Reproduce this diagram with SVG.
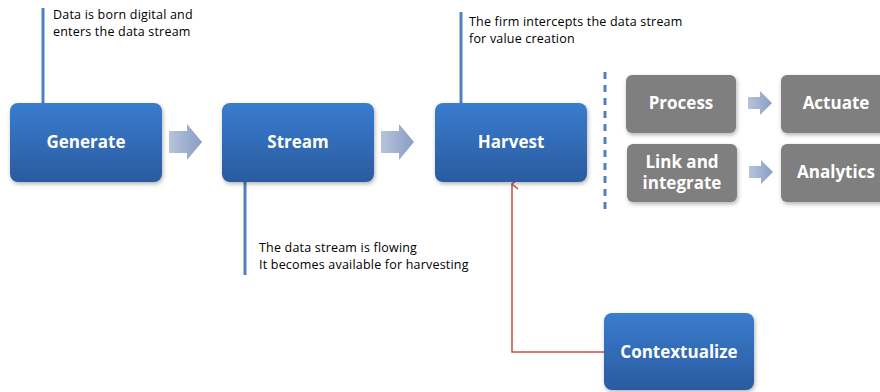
<svg xmlns="http://www.w3.org/2000/svg" width="880" height="392" viewBox="0 0 880 392">
<defs>
<linearGradient id="blue" x1="0" y1="0" x2="0" y2="1">
<stop offset="0" stop-color="#3a7ccf"/>
<stop offset="1" stop-color="#2a5b9f"/>
</linearGradient>
<linearGradient id="arr" x1="0" y1="0" x2="1" y2="0">
<stop offset="0" stop-color="#b5c3dc"/>
<stop offset="1" stop-color="#8a9dc4"/>
</linearGradient>
<filter id="sh" x="-10%" y="-10%" width="130%" height="130%">
<feDropShadow dx="1" dy="2" stdDeviation="2" flood-color="#000" flood-opacity="0.3"/>
</filter>
<marker id="redhead" markerWidth="12" markerHeight="12" refX="6" refY="1" orient="auto" markerUnits="userSpaceOnUse" viewBox="0 0 12 12">
<path d="M1,7 L6,1 L11,7" fill="none" stroke="#c0504d" stroke-width="1.5"/>
</marker>
</defs>
<style>
.box{fill:url(#blue);filter:url(#sh)}
.gbox{fill:#7f7f7f;filter:url(#sh)}
.lbl{font-family:"Open Sans","Liberation Sans",sans-serif;font-weight:bold;font-size:17px;fill:#fff;text-anchor:middle}
.note{font-family:"Open Sans","Liberation Sans",sans-serif;font-size:12.5px;letter-spacing:0.2px;fill:#000}
.call{stroke:#4f81bd;stroke-width:3;fill:none}
.bigarr{fill:url(#arr)}
</style>
<g id="connectors">
<line class="call" x1="43" y1="8" x2="43" y2="103"/>
<line class="call" x1="245" y1="182" x2="245" y2="275"/>
<line class="call" x1="461" y1="12" x2="461" y2="103"/>
<line x1="605" y1="72" x2="605" y2="210" stroke="#4f81bd" stroke-width="3" stroke-dasharray="7,6"/>
<polyline points="604,352 512,352 512,184" fill="none" stroke="#c0504d" stroke-width="1.5" marker-end="url(#redhead)"/>
<path class="bigarr" d="M169,131 H187 V124 L202,142 L187,160 V153 H169 Z"/>
<path class="bigarr" d="M381,131 H399 V124 L414,142 L399,160 V153 H381 Z"/>
<path class="bigarr" d="M748,97 H760 V91 L772,103 L760,115 V109 H748 Z"/>
<path class="bigarr" d="M749,166 H761 V160 L773,172 L761,184 V178 H749 Z"/>
</g>
<g id="generate">
<rect class="box" x="10" y="103" width="152" height="79" rx="8"/>
<text class="lbl" x="86" y="148">Generate</text>
</g>
<g id="stream">
<rect class="box" x="222" y="103" width="152" height="79" rx="8"/>
<text class="lbl" x="298" y="148">Stream</text>
</g>
<g id="harvest">
<rect class="box" x="435" y="103" width="152" height="79" rx="8"/>
<text class="lbl" x="511" y="148">Harvest</text>
</g>
<g id="process">
<rect class="gbox" x="626" y="75" width="110" height="58" rx="6"/>
<text class="lbl" x="681" y="109">Process</text>
</g>
<g id="actuate">
<rect class="gbox" x="781" y="75" width="110" height="58" rx="6"/>
<text class="lbl" x="836" y="109">Actuate</text>
</g>
<g id="link">
<rect class="gbox" x="627" y="144" width="110" height="58" rx="6"/>
<text class="lbl" x="682" y="168">Link and</text>
<text class="lbl" x="682" y="189">integrate</text>
</g>
<g id="analytics">
<rect class="gbox" x="781" y="144" width="110" height="58" rx="6"/>
<text class="lbl" x="836" y="178">Analytics</text>
</g>
<g id="contextualize">
<rect class="box" x="604" y="313" width="150" height="77" rx="8"/>
<text class="lbl" x="679" y="358">Contextualize</text>
</g>
<g id="notes">
<text class="note" x="53" y="19">Data is born digital and</text>
<text class="note" x="53" y="35.5">enters the data stream</text>
<text class="note" x="259" y="252">The data stream is flowing</text>
<text class="note" x="259" y="268.5">It becomes available for harvesting</text>
<text class="note" x="469" y="26">The firm intercepts the data stream</text>
<text class="note" x="469" y="42.5">for value creation</text>
</g>
</svg>
